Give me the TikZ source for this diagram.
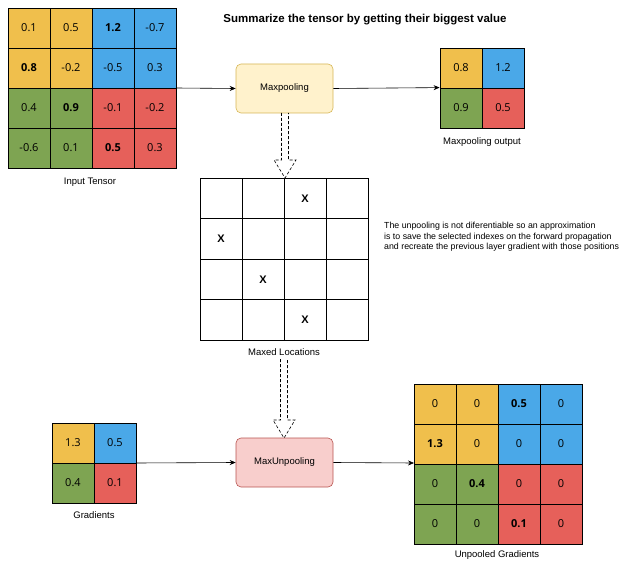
\documentclass[tikz,border=0pt]{standalone}
\usepackage{fontspec}
\setmainfont{Liberation Sans}
\newfontfamily\numf{Open Sans}
\usetikzlibrary{arrows.meta}
\definecolor{cy}{HTML}{F0BF4C}
\definecolor{cb}{HTML}{4AA8E8}
\definecolor{cg}{HTML}{7EA452}
\definecolor{cr}{HTML}{E6605A}
\tikzset{
 cell/.style={draw=black,line width=0.8pt,minimum width=42pt,minimum height=40pt,inner sep=0pt,font=\numf\fontsize{11}{13}\selectfont},
 lab/.style={fill=white,font=\fontsize{9.5}{11}\selectfont,inner sep=2pt},
 arr/.style={-{Stealth[length=6pt,width=5pt]},line width=0.6pt},
 proc/.style={rounded corners=5pt,minimum width=97pt,minimum height=49pt,font=\fontsize{9.5}{11}\selectfont,line width=0.6pt},
 xm/.style={font=\bfseries\fontsize{11}{13}\selectfont},
}
\newcommand{\mygrid}[5]{% name, x, y, ncols, list of (color/text)
 \foreach \c/\t [count=\i from 0] in {#5}{
  \pgfmathtruncatemacro{\col}{mod(\i,#4)}
  \pgfmathtruncatemacro{\row}{div(\i,#4)}
  \node[cell,fill=\c] (#1-\row-\col) at ({#2+21+42*\col},{#3+20+40*\row}) {\t};
 }}
\newcommand{\hollow}[3]{% x, ytop, ybottom
 \draw[densely dashed,line width=0.6pt] (#1-3.5,#2) -- (#1-3.5,#3-18) -- (#1-11,#3-18) -- (#1,#3) -- (#1+11,#3-18) -- (#1+3.5,#3-18) -- (#1+3.5,#2);}
\begin{document}
\begin{tikzpicture}[x=1pt,y=-1pt]
\useasboundingbox (0,0) rectangle (632,572);
\mygrid{in}{8}{8}{4}{cy/0.1,cy/0.5,cb/\textbf{1.2},cb/-0.7,cy/\textbf{0.8},cy/-0.2,cb/-0.5,cb/0.3,cg/0.4,cg/\textbf{0.9},cr/-0.1,cr/-0.2,cg/-0.6,cg/0.1,cr/\textbf{0.5},cr/0.3}
\node[lab] (inl) at (90,182) {Input Tensor};
\node[font=\bfseries\fontsize{11.5}{13}\selectfont] (title) at (365,20) {Summarize the tensor by getting their biggest value};
\node[proc,draw={rgb,255:red,214;green,182;blue,86},fill={rgb,255:red,255;green,242;blue,204}] (mp) at (284.5,88.5) {Maxpooling};
\coordinate (inr) at (176,88);
\draw[arr] (inr) -- (mp.west);
\mygrid{out}{440}{48}{2}{cy/0.8,cb/1.2,cg/0.9,cr/0.5}
\node[lab] (outl) at (482,142) {Maxpooling output};
\draw[arr] (mp.east) -- (out-1-0.north west);
\hollow{285}{113}{178}
\foreach \r in {0,...,3}\foreach \c in {0,...,3}
 \node[cell,fill=white,minimum height=40.5pt] (ml-\r-\c) at ({221+42*\c},{198.25+40.5*\r}) {};
\node[xm] at (ml-0-2) {X};
\node[xm] at (ml-1-0) {X};
\node[xm] at (ml-2-1) {X};
\node[xm] at (ml-3-2) {X};
\node[lab] (mll) at (284,352) {Maxed Locations};
\node[font=\fontsize{8.8}{10.5}\selectfont,align=left,anchor=north west,inner sep=0pt] (note) at (384,222) {The unpooling is not diferentiable so an approximation\\is to save the selected indexes on the forward propagation\\and recreate the previous layer gradient with those positions};
\hollow{284}{359}{438}
\node[proc,draw={rgb,255:red,184;green,84;blue,80},fill={rgb,255:red,248;green,206;blue,204}] (mu) at (284.5,462.5) {MaxUnpooling};
\mygrid{gr}{52}{423}{2}{cy/1.3,cb/0.5,cg/0.4,cr/0.1}
\node[lab] (grl) at (94,515) {Gradients};
\coordinate (grr) at (136,463);
\draw[arr] (grr) -- (mu.west);
\mygrid{up}{414}{384}{4}{cy/0,cy/0,cb/\textbf{0.5},cb/0,cy/\textbf{1.3},cy/0,cb/0,cb/0,cg/0,cg/\textbf{0.4},cr/0,cr/0,cg/0,cg/0,cr/\textbf{0.1},cr/0}
\coordinate (upl) at (414,463);
\draw[arr] (mu.east) -- (upl);
\node[lab] (upll) at (497,555) {Unpooled Gradients};
\end{tikzpicture}
\end{document}
